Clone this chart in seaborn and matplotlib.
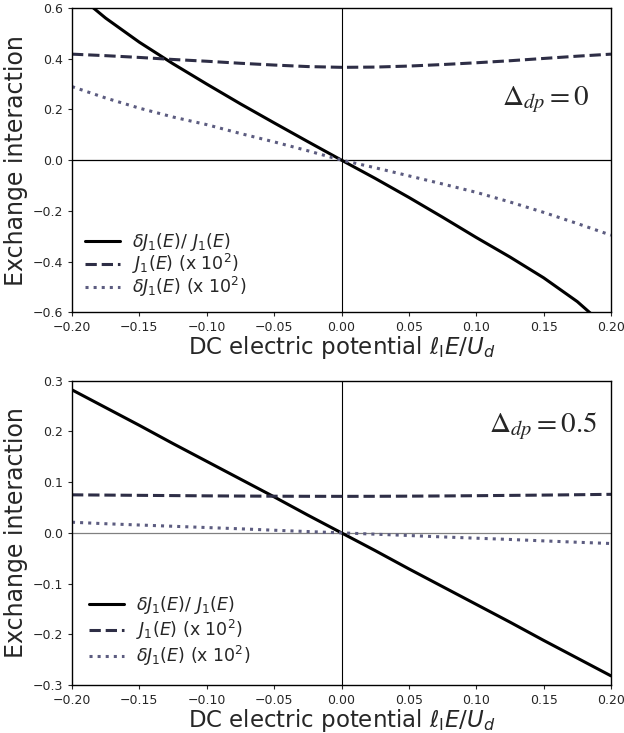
import numpy as np
import pandas as pd
import matplotlib
matplotlib.use('Agg')
import matplotlib.pyplot as plt
import seaborn as sns

sns.set_style('ticks')

# x values (DC electric potential)
x_vals = [-0.2, -0.175, -0.15, -0.125, -0.1, -0.075, -0.05, -0.025, 0.0,
          0.025, 0.05, 0.075, 0.1, 0.125, 0.15, 0.175, 0.2]

# top panel, Delta_dp = 0
top_ratio = [0.67, 0.56, 0.465, 0.38, 0.30, 0.222, 0.147, 0.073, 0.0,
             -0.072, -0.147, -0.225, -0.305, -0.382, -0.464, -0.558, -0.675]
top_J1 = [0.418, 0.412, 0.405, 0.397, 0.39, 0.382, 0.375, 0.369, 0.366,
          0.367, 0.371, 0.377, 0.384, 0.392, 0.401, 0.41, 0.418]
top_dJ1 = [0.29, 0.245, 0.205, 0.17, 0.14, 0.105, 0.072, 0.037, 0.0,
           -0.03, -0.062, -0.094, -0.127, -0.165, -0.206, -0.25, -0.296]

# bottom panel, Delta_dp = 0.5
bot_ratio = [0.282, 0.247, 0.212, 0.176, 0.141, 0.106, 0.071, 0.035, 0.0,
             -0.035, -0.071, -0.106, -0.141, -0.176, -0.212, -0.247, -0.282]
bot_J1 = [0.0750, 0.0745, 0.0740, 0.0735, 0.0730, 0.0726, 0.0723, 0.0721, 0.0720,
          0.0721, 0.0724, 0.0728, 0.0733, 0.0739, 0.0745, 0.0752, 0.0760]
bot_dJ1 = [0.021, 0.018, 0.0155, 0.013, 0.0105, 0.008, 0.0052, 0.0026, 0.0,
           -0.0026, -0.0052, -0.008, -0.0105, -0.013, -0.0158, -0.0185, -0.021]

labels = [r'$\delta J_1(E)/\ J_1(E)$', r'$J_1(E)$ (x $10^2$)', r'$\delta J_1(E)$ (x $10^2$)']
colors = ['black', '#2e2e46', '#5c5c80']
styles = ['-', '--', ':']

fig, (ax1, ax2) = plt.subplots(2, 1, figsize=(6.24, 7.33), dpi=100)
fig.subplots_adjust(left=72/624, right=611/624, top=1-8/733, bottom=1-685/733, hspace=0.225)

panels = [
    (ax1, [top_ratio, top_J1, top_dJ1], 0.6, [-0.6, -0.4, -0.2, 0.0, 0.2, 0.4, 0.6],
     r'$\Delta_{dp} = 0$', 'black', (0.96, 0.70), -0.05, 0.35),
    (ax2, [bot_ratio, bot_J1, bot_dJ1], 0.3, [-0.3, -0.2, -0.1, 0.0, 0.1, 0.2, 0.3],
     r'$\Delta_{dp} = 0.5$', 'gray', (0.975, 0.85), 0.1, 0.6),
]

for ax, series, ylim, yticks, note, hcol, note_xy, lspace, lpad in panels:
    ax.axhline(0, color=hcol, lw=0.9, zorder=1)
    ax.axvline(0, color='black', lw=0.8, zorder=1)
    for y, lab, c, ls in zip(series, labels, colors, styles):
        sns.lineplot(x=x_vals, y=y, ax=ax, color=c, linestyle=ls, lw=2.2, label=lab)
    ax.set_xlim(-0.2, 0.2)
    ax.set_ylim(-ylim, ylim)
    ax.set_yticks(yticks)
    ax.set_xticks([-0.2, -0.15, -0.1, -0.05, 0.0, 0.05, 0.1, 0.15, 0.2])
    ax.tick_params(labelsize=9, direction='out', length=3)
    ax.set_xlabel(r'DC electric potential $\ell_{\rm I}E/U_d$', fontsize=16.5, labelpad=0)
    ax.set_ylabel('Exchange interaction', fontsize=17, labelpad=3)
    for s in ax.spines.values():
        s.set_linewidth(1.0)
        s.set_color('black')
    ax.legend(loc='lower left', frameon=False, fontsize=12.5, handlelength=2.0,
              handletextpad=0.7, borderaxespad=lpad, labelspacing=lspace)
    ax.text(note_xy[0], note_xy[1], note, transform=ax.transAxes, ha='right', va='center',
            fontsize=21, math_fontfamily='stix')

fig.savefig('out.png', dpi=100)
